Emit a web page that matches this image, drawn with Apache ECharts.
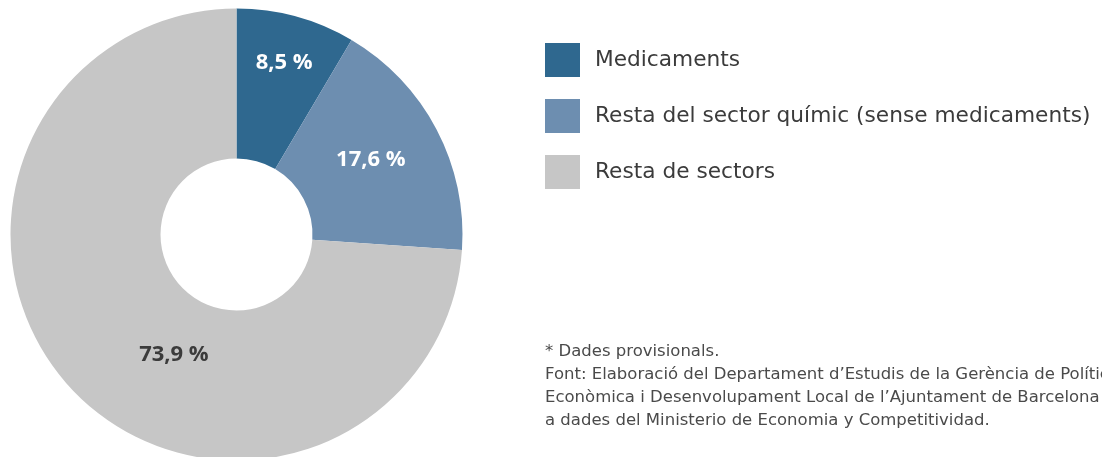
<!doctype html>
<html lang="ca">
<head>
    <meta charset="UTF-8">
    <title>Pes del sector de medicaments</title>
    <style>
        html, body { margin: 0; padding: 0; background: #fff; }
        #chart { width: 1102px; height: 457px; }
    </style>
</head>
<body>
<div id="chart"></div>
<script src="https://cdn.jsdelivr.net/npm/echarts@6/dist/echarts.min.js"></script>
<script type="text/javascript">
    var categories = ["Medicaments", "Resta del sector químic (sense medicaments)", "Resta de sectors"];
    var values = [8.5, 17.6, 73.9];
    var value_labels = ["8,5 %", "17,6 %", "73,9 %"];
    var colors = ["#2f688f", "#6d8eb0", "#c6c6c6"];
    var label_colors = ["#ffffff", "#ffffff", "#3b3b3b"];
    // desplaçament de cada etiqueta respecte a la posició "inside"
    var label_offsets = [[7, -23], [-2, -3], [50, 15]];

    var notes = [
        "* Dades provisionals.",
        "Font: Elaboració del Departament d’Estudis de la Gerència de Política",
        "Econòmica i Desenvolupament Local de l’Ajuntament de Barcelona d’acord",
        "a dades del Ministerio de Economia y Competitividad."
    ];

    var chart = echarts.init(document.getElementById('chart'));

    var data = [];
    for (var i = 0; i < categories.length; i++) {
        data.push({
            name: categories[i],
            value: values[i],
            itemStyle: { color: colors[i] },
            label: {
                formatter: value_labels[i],
                color: label_colors[i],
                offset: label_offsets[i]
            }
        });
    }

    var option = {
        animation: false,
        textStyle: { fontFamily: 'DejaVu Sans' },
        legend: {
            orient: 'vertical',
            left: 545,
            top: 43,
            padding: 0,
            icon: 'rect',
            itemWidth: 35,
            itemHeight: 34,
            itemGap: 22,
            selectedMode: false,
            data: categories,
            textStyle: {
                fontFamily: 'DejaVu Sans',
                fontSize: 21.7,
                color: '#3b3b3b',
                padding: [0, 0, 0, 10]
            }
        },
        graphic: [{
            type: 'text',
            left: 545,
            top: 340,
            style: {
                text: notes.join('\n'),
                font: '16.5px "DejaVu Sans"',
                lineHeight: 23,
                fill: '#4a4a4a'
            }
        }],
        series: [{
            type: 'pie',
            center: [236.5, 234.5],
            radius: [76, 226],
            startAngle: 90,
            clockwise: true,
            silent: true,
            label: {
                show: true,
                position: 'inside',
                fontFamily: 'Open Sans',
                fontSize: 22,
                fontWeight: 'bold'
            },
            labelLine: { show: false },
            itemStyle: { borderWidth: 0 },
            data: data
        }]
    };
    chart.setOption(option);
</script>
</body>
</html>
